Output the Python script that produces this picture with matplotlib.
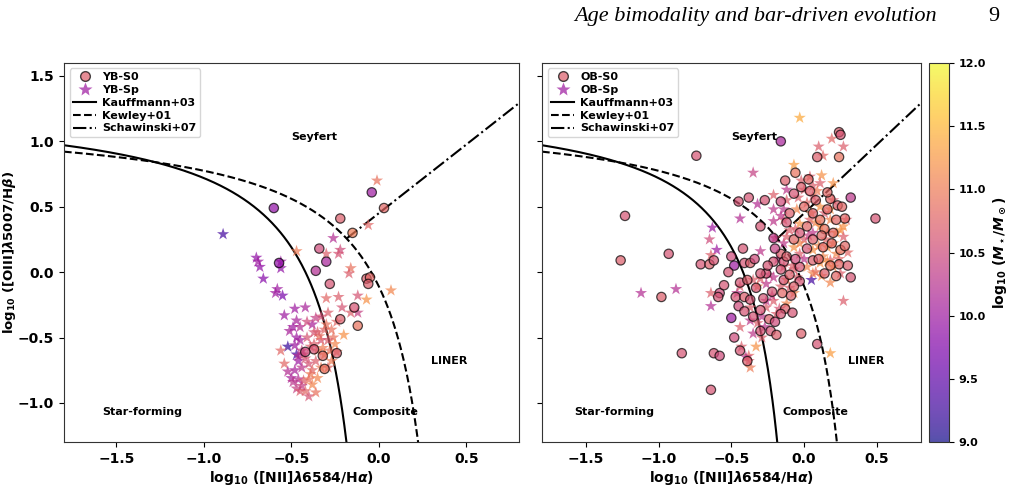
import numpy as np
import matplotlib
matplotlib.use('Agg')
import matplotlib.pyplot as plt
from matplotlib.lines import Line2D
from matplotlib.colors import Normalize

plt.rcParams['font.family'] = ['DejaVu Sans']
plt.rcParams['font.weight'] = 'bold'
plt.rcParams['axes.labelweight'] = 'bold'
plt.rcParams['mathtext.fontset'] = 'dejavusans'

# YB-S0 (left, circles): x, y, log mass
yb_s0_x = [-0.60, -0.04, 0.03, -0.22, -0.15, -0.34, -0.30, -0.57, -0.36, -0.28, -0.07, -0.05,
           -0.06, -0.14, -0.12, -0.22, -0.37, -0.32, -0.42, -0.24, -0.31]
yb_s0_y = [0.49, 0.61, 0.49, 0.41, 0.30, 0.18, 0.08, 0.07, 0.01, -0.09, -0.05, -0.04,
           -0.09, -0.27, -0.41, -0.36, -0.59, -0.64, -0.61, -0.62, -0.74]
yb_s0_m = [9.9, 10.0, 10.8, 10.7, 11.0, 10.5, 10.1, 9.9, 10.2, 10.6, 10.7, 10.8,
           10.7, 10.6, 10.9, 10.7, 10.6, 10.8, 10.5, 10.7, 10.9]

# YB-Sp (left, stars)
yb_sp_x = [-0.89, -0.70, -0.68, -0.69, -0.56, -0.56, -0.66, -0.58, -0.59, -0.55, -0.47, -0.26,
           -0.30, -0.22, -0.23, -0.16, -0.17, 0.07, -0.12, -0.07, -0.30, -0.23, -0.12, -0.16,
           -0.01, -0.06,
           -0.52, -0.47, -0.56, -0.54, -0.54, -0.48, -0.42, -0.47, -0.49, -0.45, -0.38, -0.37,
           -0.33, -0.29, -0.24, -0.26, -0.20, -0.25, -0.24, -0.29, -0.33, -0.37, -0.41, -0.45,
           -0.47, -0.48, -0.46, -0.48, -0.46, -0.47, -0.43, -0.42, -0.38, -0.35, -0.33, -0.36,
           -0.40, -0.44, -0.39, -0.43, -0.39, -0.35, -0.31, -0.27, -0.29, -0.45, -0.50, -0.49,
           -0.41, -0.36, -0.31, -0.28, -0.34, -0.44, -0.51, -0.40, -0.44, -0.36, -0.52, -0.21,
           -0.32, -0.27, -0.38, -0.42, -0.30, -0.35, -0.46, -0.40]
yb_sp_y = [0.29, 0.11, 0.04, 0.08, 0.08, 0.03, -0.05, -0.13, -0.16, -0.18, 0.16, 0.26,
           0.14, 0.17, 0.14, 0.03, -0.01, -0.14, -0.18, -0.21, -0.20, -0.19, -0.31, -0.31,
           0.70, 0.36,
           -0.57, -0.63, -0.60, -0.70, -0.33, -0.28, -0.27, -0.37, -0.42, -0.42, -0.40, -0.46,
           -0.34, -0.31, -0.38, -0.50, -0.48, -0.55, -0.61, -0.52, -0.52, -0.55, -0.50, -0.52,
           -0.50, -0.56, -0.68, -0.75, -0.82, -0.89, -0.83, -0.91, -0.86, -0.81, -0.73, -0.68,
           -0.70, -0.73, -0.78, -0.63, -0.57, -0.60, -0.63, -0.68, -0.73, -0.91, -0.81, -0.84,
           -0.38, -0.35, -0.44, -0.60, -0.49, -0.60, -0.45, -0.95, -0.87, -0.92, -0.76, -0.27,
           -0.58, -0.44, -0.75, -0.66, -0.40, -0.46, -0.64, -0.82]
yb_sp_m = [9.3, 9.9, 9.9, 10.0, 10.0, 9.9, 9.8, 10.0, 10.0, 9.7, 11.0, 10.2,
           10.7, 10.5, 10.6, 10.9, 10.7, 11.1, 10.6, 11.2, 10.8, 10.7, 10.4, 10.7,
           10.9, 10.8,
           9.2, 9.3, 10.8, 10.8, 10.0, 10.0, 10.1, 10.1, 10.0, 10.2, 10.1, 10.6,
           10.6, 10.7, 10.8, 10.9, 11.2, 11.1, 10.9, 10.7, 10.6, 10.7, 10.6, 10.1,
           10.0, 10.0, 10.0, 10.1, 10.2, 10.4, 10.7, 10.8, 11.1, 11.1, 11.0, 10.7,
           10.6, 10.3, 11.0, 10.6, 10.7, 11.0, 11.1, 11.0, 10.8, 10.7, 10.1, 10.3,
           10.5, 10.4, 10.8, 10.9, 10.9, 10.4, 10.1, 10.6, 10.4, 10.9, 10.2, 10.6,
           11.0, 10.9, 10.8, 10.6, 10.9, 10.7, 10.2, 10.9]

# OB-S0 (right, circles)
ob_s0_x = [-0.74, -0.16, 0.24, 0.25, 0.09, 0.24, -0.06, -0.13, 0.03, -0.02, -0.07, -0.38,
           -0.27, -0.16, -0.45, 0.18, 0.32, 0.23, 0.28, 0.49, -1.23, -1.26, -0.93, -0.30,
           -0.42, -0.50, -0.71, -0.65, -0.62, -0.48, -0.41, -0.37, -0.21, -0.16, -0.14, -0.21,
           -0.44, -0.39, -0.58, -0.59, -0.47, -0.41, -0.98, -0.45, -0.41, -0.37, -0.50, -0.35,
           -0.30, -0.24, -0.22, -0.15, -0.13, -0.08, -0.09, -0.03, -0.23, -0.19, -0.30, -0.48,
           -0.44, -0.02, 0.09, -0.84, -0.62, -0.58, -0.64, -0.39, 0.32, 0.24, 0.14, -0.26,
           -0.30, -0.16, -0.12, -0.07, 0.02, 0.06, 0.11, 0.16, 0.20, 0.06, -0.03, 0.13,
           0.25, 0.06, -0.03, 0.16, 0.22, -0.16, -0.07, -0.14,
           -0.10, 0.00, 0.08, 0.14, 0.19, 0.10, 0.02, -0.06, 0.28, 0.30, 0.22, -0.20,
           -0.25, -0.10, 0.12, 0.04, -0.12, 0.26, 0.18, -0.33, -0.28, -0.20, -0.52, -0.55,
           -0.34]
ob_s0_y = [0.89, 1.00, 1.07, 1.05, 0.88, 0.88, 0.76, 0.70, 0.71, 0.65, 0.60, 0.57,
           0.55, 0.54, 0.54, 0.56, 0.57, 0.51, 0.41, 0.41, 0.43, 0.09, 0.14, 0.35,
           0.18, 0.12, 0.06, 0.06, 0.09, 0.05, 0.07, 0.07, 0.26, 0.14, 0.08, 0.08,
           -0.08, -0.06, -0.16, -0.19, -0.19, -0.19, -0.19, -0.26, -0.30, -0.21, -0.35, -0.34,
           -0.29, -0.36, -0.15, -0.16, -0.28, -0.31, -0.18, -0.07, -0.45, -0.48, -0.45, -0.50,
           -0.60, -0.47, -0.55, -0.62, -0.62, -0.64, -0.90, -0.68, -0.04, 0.06, -0.01, -0.01,
           -0.01, 0.02, 0.12, 0.25, 0.35, 0.45, 0.40, 0.48, 0.30, 0.25, 0.30, 0.19,
           0.17, 0.09, 0.04, 0.61, 0.40, -0.32, -0.11, -0.06,
           0.45, 0.50, 0.55, 0.33, 0.22, 0.10, 0.18, 0.10, 0.20, 0.05, -0.03, 0.18,
           0.05, -0.02, 0.28, 0.62, 0.38, 0.50, 0.05, -0.12, -0.20, -0.38, 0.00, -0.10,
           0.10]
ob_s0_m = [10.6, 10.1, 10.7, 10.6, 10.7, 10.9, 10.9, 10.7, 10.8, 10.7, 10.6, 10.6,
           10.6, 10.5, 10.6, 10.8, 10.3, 10.7, 10.8, 10.6, 10.6, 10.7, 10.6, 10.6,
           10.6, 10.5, 10.6, 10.7, 10.6, 10.0, 10.6, 10.7, 10.3, 10.7, 10.6, 10.6,
           10.6, 10.7, 10.5, 10.6, 10.6, 10.7, 10.7, 10.5, 10.6, 10.6, 10.0, 10.6,
           10.6, 10.7, 10.6, 10.8, 10.7, 10.6, 10.7, 10.6, 10.6, 10.7, 10.6, 10.5,
           10.6, 10.7, 10.6, 10.6, 10.6, 10.5, 10.6, 10.7, 10.6, 10.8, 10.7, 10.6,
           10.6, 10.6, 10.7, 10.8, 10.8, 10.7, 10.9, 10.8, 10.8, 10.7, 10.6, 10.8,
           10.9, 10.7, 10.6, 10.8, 10.8, 10.6, 10.7, 10.6,
           10.7, 10.8, 10.7, 10.9, 10.8, 10.7, 10.6, 10.5, 10.8, 10.7, 10.8, 10.4,
           10.6, 10.7, 10.8, 10.7, 10.6, 10.8, 10.9, 10.6, 10.6, 10.5, 10.6, 10.6,
           10.5]

# OB-Sp (right, stars)
ob_sp_x = [-0.03, 0.19, 0.27, 0.10, 0.13, -0.07, -0.35, 0.12, 0.11, -0.21, -0.12, -0.32,
           -0.44, -0.63, -0.65, -0.60, -0.64, -1.12, -0.88, -0.64, -0.64, 0.27, 0.18, 0.05,
           -0.33, -0.43, -0.38, -0.40, -0.37, -0.38, -0.30, -0.21, -0.14, -0.20,
           -0.12, -0.05, 0.02, 0.06, 0.11, 0.18, 0.04, -0.03, -0.10, 0.11, 0.18, 0.25,
           0.27, 0.16, 0.06, 0.00, -0.07, -0.14, -0.03, 0.06, 0.16, 0.22, 0.18, 0.11,
           0.02, -0.07, -0.14, -0.21, -0.12, -0.05, -0.26, -0.16, -0.07, -0.12, -0.21, -0.26,
           -0.29, -0.32, -0.27, -0.35, -0.29, -0.26, -0.19, -0.37, -0.44, -0.37, -0.35, -0.32,
           -0.46, -0.44, 0.25, 0.20, 0.29, 0.00, 0.06, 0.20, 0.04, -0.21, -0.16, -0.12,
           -0.03, 0.06, 0.13, 0.20,
           0.08, 0.14, 0.22, 0.03, -0.06, 0.10, 0.16, 0.24, 0.00, -0.08, 0.12, 0.30,
           0.20, 0.09, -0.02, -0.18, -0.24, -0.10, 0.05, 0.15, 0.27, -0.14, -0.04, 0.18,
           0.08, -0.22, -0.30, -0.17]
ob_sp_y = [1.18, 1.02, 0.96, 0.96, 0.89, 0.82, 0.76, 0.74, 0.68, 0.59, 0.63, 0.52,
           0.41, 0.34, 0.25, 0.17, 0.13, -0.16, -0.13, -0.16, -0.26, -0.22, -0.62, -0.06,
           -0.57, -0.57, -0.64, -0.65, -0.73, -0.68, 0.16, 0.39, 0.40, 0.26,
           0.55, 0.48, 0.53, 0.58, 0.50, 0.48, 0.40, 0.37, 0.32, 0.35, 0.40, 0.32,
           0.27, 0.30, 0.30, 0.25, 0.19, 0.22, 0.14, 0.17, 0.19, 0.14, 0.09, 0.07,
           0.04, 0.02, 0.04, -0.04, -0.06, -0.04, -0.09, -0.11, -0.16, -0.24, -0.22, -0.27,
           -0.34, -0.39, -0.42, -0.47, -0.50, -0.22, -0.32, -0.37, -0.42, -0.27, -0.06, -0.11,
           -0.16, -0.11, -0.01, 0.04, 0.40, 0.63, 0.66, 0.68, 0.73, 0.48, 0.43, 0.27,
           0.22, -0.01, 0.12, 0.22,
           0.38, 0.45, 0.30, 0.28, 0.33, 0.20, 0.08, 0.10, 0.10, 0.05, -0.03, 0.15,
           0.55, 0.62, 0.70, 0.10, -0.02, -0.12, 0.45, 0.25, 0.35, 0.48, 0.57, -0.08,
           0.00, -0.18, -0.05, -0.28]
ob_sp_m = [11.4, 10.8, 10.7, 10.7, 10.8, 11.3, 10.4, 11.2, 10.7, 10.7, 10.3, 10.2,
           10.2, 10.0, 10.5, 10.0, 10.7, 10.2, 10.2, 10.7, 10.2, 10.7, 11.3, 9.3,
           11.2, 10.7, 10.8, 10.3, 11.0, 10.7, 10.3, 10.3, 10.7, 10.7,
           10.7, 11.1, 10.8, 10.7, 11.2, 11.2, 10.7, 11.2, 10.7, 11.2, 11.1, 11.2,
           10.7, 10.8, 10.3, 10.7, 11.2, 10.3, 10.7, 11.2, 11.2, 11.1, 10.7, 11.2,
           11.1, 10.7, 10.7, 10.3, 11.1, 10.7, 10.3, 10.7, 11.1, 11.1, 10.7, 10.7,
           10.3, 10.7, 10.3, 10.3, 10.7, 10.3, 10.7, 10.3, 10.7, 10.7, 10.7, 11.1,
           10.3, 10.7, 10.7, 11.1, 10.7, 10.7, 10.7, 11.2, 10.7, 10.3, 10.3, 10.7,
           11.1, 11.1, 11.1, 11.1,
           11.1, 10.7, 11.2, 10.4, 10.7, 11.1, 11.2, 10.8, 10.3, 10.7, 11.1, 10.8,
           10.7, 11.0, 10.7, 10.3, 10.4, 10.7, 11.1, 10.8, 11.2, 10.3, 10.7, 11.1,
           10.9, 10.4, 10.7, 10.6]

regions = ['Seyfert', 'LINER', 'Star-forming', 'Composite']
region_x = [-0.50, 0.30, -1.58, -0.15]
region_y = [1.03, -0.68, -1.07, -1.07]

xlim = (-1.8, 0.8)
ylim = (-1.3, 1.6)

cmap = plt.get_cmap('plasma')
norm = Normalize(vmin=9.0, vmax=12.0)
alpha = 0.7


def kauffmann(x):
    return 0.61 / (x - 0.05) + 1.3


def kewley(x):
    return 0.61 / (x - 0.47) + 1.19


def schawinski(x):
    return 1.05 * x + 0.45


# 交点：Schawinski 与 Kewley
xs = np.linspace(-0.5, 0.2, 5000)
x_int = xs[np.argmin(np.abs(schawinski(xs) - kewley(xs)))]

fig = plt.figure(figsize=(10.15, 5.03), dpi=100)
ax1 = fig.add_axes([0.063, 0.121, 0.448, 0.754])
ax2 = fig.add_axes([0.534, 0.121, 0.373, 0.754])
cax = fig.add_axes([0.915, 0.121, 0.0197, 0.754])

panels = [
    (ax1, (yb_s0_x, yb_s0_y, yb_s0_m), (yb_sp_x, yb_sp_y, yb_sp_m), ('YB-S0', 'YB-Sp')),
    (ax2, (ob_s0_x, ob_s0_y, ob_s0_m), (ob_sp_x, ob_sp_y, ob_sp_m), ('OB-S0', 'OB-Sp')),
]

for ax, s0, sp, names in panels:
    ax.scatter(sp[0], sp[1], c=sp[2], cmap=cmap, norm=norm, marker='*', s=85,
               alpha=alpha, edgecolors='none', zorder=3)
    sc = ax.scatter(s0[0], s0[1], c=s0[2], cmap=cmap, norm=norm, marker='o', s=45,
                    alpha=alpha, edgecolors='k', linewidths=0.9, zorder=3)

    xk = np.linspace(xlim[0], 0.05 + 0.61 / (ylim[0] - 1.3), 400)
    xw = np.linspace(xlim[0], 0.47 + 0.61 / (ylim[0] - 1.19), 400)
    xsw = np.linspace(x_int, xlim[1], 100)
    ax.plot(xk, kauffmann(xk), 'k-', lw=1.5, zorder=2)
    ax.plot(xw, kewley(xw), 'k--', lw=1.5, zorder=2)
    ax.plot(xsw, schawinski(xsw), 'k-.', lw=1.5, zorder=2)

    for t, tx, ty in zip(regions, region_x, region_y):
        ax.text(tx, ty, t, fontsize=8, fontweight='bold', ha='left', va='center')

    ax.set_xlim(xlim)
    ax.set_ylim(ylim)
    ax.set_xticks([-1.5, -1.0, -0.5, 0.0, 0.5])
    ax.set_yticks([-1.0, -0.5, 0.0, 0.5, 1.0, 1.5])
    ax.tick_params(labelsize=10)
    for lab in ax.get_xticklabels() + ax.get_yticklabels():
        lab.set_fontweight('bold')
    for sp_ in ax.spines.values():
        sp_.set_color('#333333')
    ax.set_xlabel(r'log$_{10}$ ([NII]$\lambda$6584/H$\alpha$)', fontsize=10, fontweight='bold', labelpad=2)

    handles = [
        Line2D([], [], marker='o', ls='none', markersize=7, markerfacecolor=cmap(norm(10.7)),
               markeredgecolor='k', alpha=alpha, label=names[0]),
        Line2D([], [], marker='*', ls='none', markersize=10, markerfacecolor=cmap(norm(10.0)),
               markeredgecolor='none', alpha=alpha, label=names[1]),
        Line2D([], [], color='k', ls='-', lw=1.5, label='Kauffmann+03'),
        Line2D([], [], color='k', ls='--', lw=1.5, label='Kewley+01'),
        Line2D([], [], color='k', ls='-.', lw=1.5, label='Schawinski+07'),
    ]
    ax.legend(handles=handles, loc='upper left', prop={'size': 8, 'weight': 'bold'},
              handlelength=2.0, labelspacing=0.25, borderpad=0.35, handletextpad=0.6)

ax1.set_ylabel(r'log$_{10}$ ([OIII]$\lambda$5007/H$\beta$)', fontsize=9.5, fontweight='bold', labelpad=0)
ax2.tick_params(labelleft=False)

cb = fig.colorbar(sc, cax=cax)
cb.set_ticks([9.0, 9.5, 10.0, 10.5, 11.0, 11.5, 12.0])
cb.ax.tick_params(labelsize=8)
for lab in cb.ax.get_yticklabels():
    lab.set_fontweight('bold')
cb.set_label(r'log$_{10}$ ($M_\star/M_\odot$)', fontsize=10, fontweight='bold')
cb.outline.set_edgecolor('#333333')

# 页眉
fig.text(0.923, 0.968, 'Age bimodality and bar-driven evolution', family='Liberation Serif',
         style='italic', fontweight='normal', fontsize=16, ha='right', va='center')
fig.text(0.985, 0.968, '9', family='Liberation Serif', fontweight='normal', fontsize=16,
         ha='right', va='center')

fig.savefig('out.png', dpi=100)
